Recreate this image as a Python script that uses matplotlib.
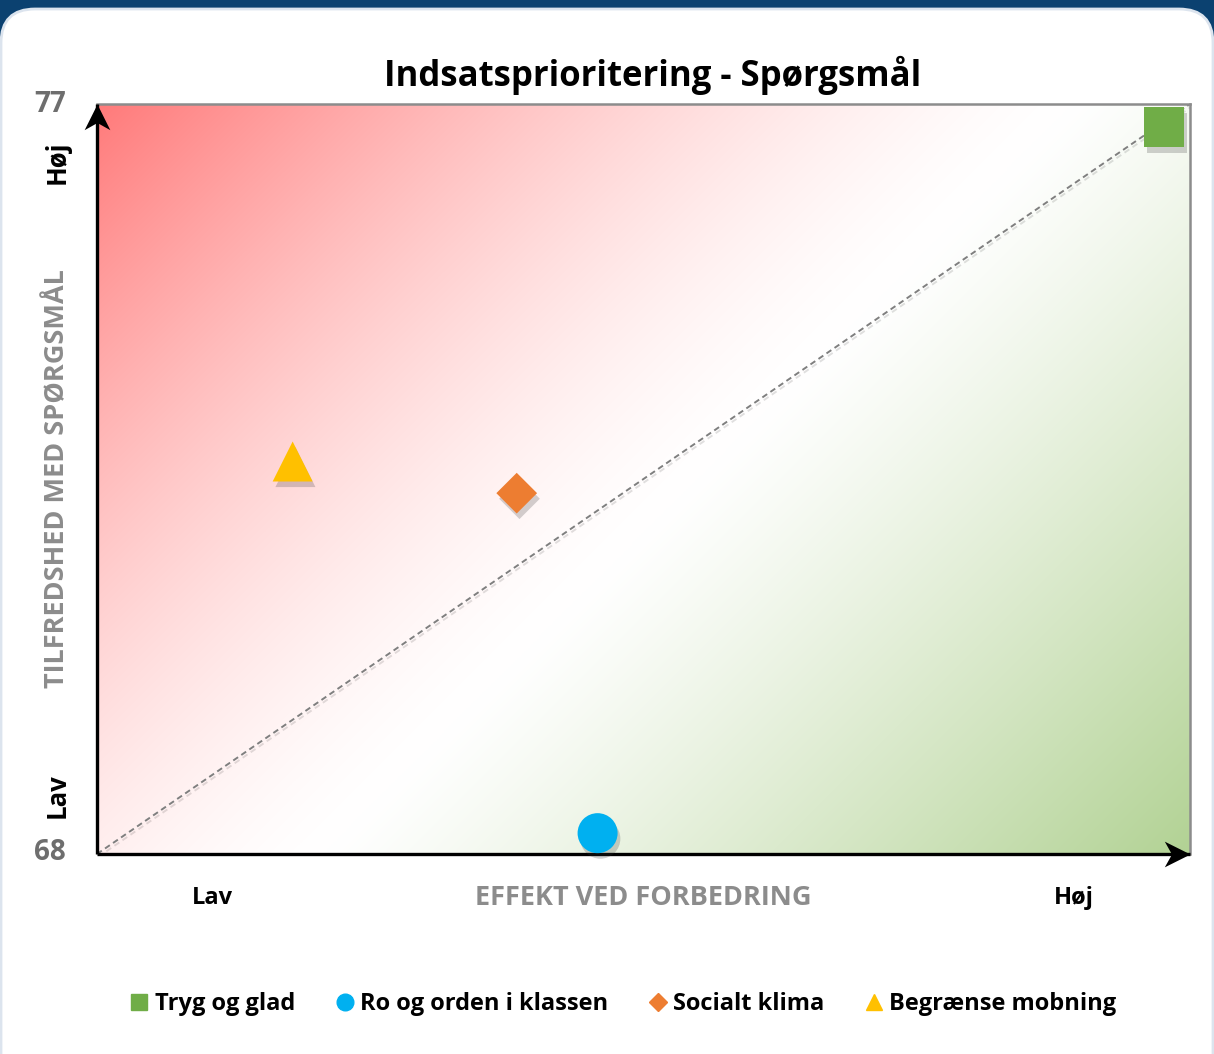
import numpy as np
import matplotlib
matplotlib.use("Agg")
import matplotlib.pyplot as plt
from matplotlib.patches import FancyBboxPatch, Rectangle
from matplotlib.transforms import IdentityTransform
from matplotlib.path import Path
import matplotlib.patheffects as pe
from matplotlib.lines import Line2D

plt.rcParams['font.family'] = ['Open Sans', 'DejaVu Sans']

# ---- data ----
categories = ["Tryg og glad", "Ro og orden i klassen", "Socialt klima", "Begrænse mobning"]
effekt = [0.976, 0.458, 0.384, 0.179]          # x: effekt ved forbedring (relative)
tilfredshed = [76.72, 68.25, 72.33, 72.71]     # y: tilfredshed med spørgsmål
markers = ["s", "o", "D", "^"]
colors = ["#70AD47", "#00B0F0", "#ED7D31", "#FFC000"]
y_ticks = [68, 77]
x_range = [0.0, 1.0]

W, H = 1214, 1054
fig = plt.figure(figsize=(W / 100, H / 100), dpi=100)
fig.patch.set_facecolor("white")

# frame background: blue top band + rounded white panel
fig.patches.append(Rectangle((0, H - 60), W, 60, transform=IdentityTransform(),
                             facecolor="#0B4170", edgecolor="none", zorder=-10))
fig.patches.append(FancyBboxPatch((1, -100), W - 2, H - 9 + 100,
                                  boxstyle="round,pad=0,rounding_size=34",
                                  transform=IdentityTransform(),
                                  facecolor="white", edgecolor="#DCE4EE",
                                  linewidth=2, zorder=-9))

L, R, T, B = 97, 1190, 104, 854
pw, ph = R - L, B - T
ax = fig.add_axes([L / W, 1 - B / H, pw / W, ph / H])
ax.set_xlim(x_range)
ax.set_ylim(y_ticks[0], y_ticks[1])

# background gradient: 45deg linear gradient (pixel space) red -> white -> green
nx, ny = 600, 420
px = np.linspace(0, pw, nx)
py = np.linspace(ph, 0, ny)          # row 0 = bottom (origin lower)
PX, PY = np.meshgrid(px, py)
s = (PX + PY) / (pw + ph)
sw = 0.53
f = np.clip((sw - s) / sw, 0, 1) ** 1.45
g = np.clip((s - sw) / (1 - sw), 0, 1) ** 1.15
red = np.array([255, 122, 122]) / 255
green = np.array([178, 210, 148]) / 255
img = np.ones((ny, nx, 3))
for c in range(3):
    img[..., c] = 1 + (red[c] - 1) * f + (green[c] - 1) * g
ax.imshow(img, origin="lower", extent=[x_range[0], x_range[1], y_ticks[0], y_ticks[1]],
          aspect="auto", zorder=0, interpolation="bilinear")

# diagonal dashed line
ax.plot(x_range, y_ticks, linestyle=(0, (3, 2)), color="#7F7F7F", lw=1.4, zorder=2,
        path_effects=[pe.SimpleLineShadow(offset=(1, -2), alpha=0.12), pe.Normal()])

# spines
for sp in ["left", "bottom"]:
    ax.spines[sp].set_visible(False)
for sp in ["top", "right"]:
    ax.spines[sp].set_color("#8C8C8C")
    ax.spines[sp].set_linewidth(1.8)
ax.set_xticks([])
ax.set_yticks([])

# axis lines with stealth arrow heads
ax.plot([x_range[0], x_range[0]], y_ticks, color="black", lw=2.4, zorder=5, clip_on=False,
        solid_capstyle="butt")
ax.plot(x_range, [y_ticks[0], y_ticks[0]], color="black", lw=2.4, zorder=5, clip_on=False,
        solid_capstyle="butt")
up = Path([(0, 0), (-0.5, -1), (0, -0.72), (0.5, -1), (0, 0)],
          [Path.MOVETO, Path.LINETO, Path.LINETO, Path.LINETO, Path.CLOSEPOLY])
right = Path([(0, 0), (-1, 0.5), (-0.72, 0), (-1, -0.5), (0, 0)],
             [Path.MOVETO, Path.LINETO, Path.LINETO, Path.LINETO, Path.CLOSEPOLY])
ax.plot([x_range[0]], [y_ticks[1]], marker=up, markersize=37, color="black",
        markeredgewidth=0, zorder=6, clip_on=False, linestyle="none")
ax.plot([x_range[1]], [y_ticks[0]], marker=right, markersize=37, color="black",
        markeredgewidth=0, zorder=6, clip_on=False, linestyle="none")

# points
sizes = [830, 830, 430, 830]
for x, y, m, c, sz in zip(effekt, tilfredshed, markers, colors, sizes):
    ax.scatter([x], [y], marker=m, s=sz, color=c, edgecolors="none", zorder=7, clip_on=False,
               path_effects=[pe.SimplePatchShadow(offset=(2, -4), alpha=0.22, shadow_rgbFace="#333333"),
                             pe.Normal()])

def ftext(px_, py_, txt, **kw):
    fig.text(px_ / W, 1 - py_ / H, txt, ha="center", va="center", fontweight="bold", **kw)

ftext(653, 75, "Indsatsprioritering - Spørgsmål", fontsize=25, color="black")
ftext(50, 104, str(y_ticks[1]), fontsize=20, color="#6E6E6E")
ftext(50, 852, str(y_ticks[0]), fontsize=20, color="#6E6E6E")
ftext(57, 162, "Høj", fontsize=18.5, color="black", rotation=90)
ftext(57, 796, "Lav", fontsize=18.5, color="black", rotation=90)
ftext(57, 479, "TILFREDSHED MED SPØRGSMÅL", fontsize=19.5, color="#8C8C8C", rotation=90)
ftext(212, 898, "Lav", fontsize=17, color="black")
ftext(643, 898, "EFFEKT VED FORBEDRING", fontsize=19.5, color="#8C8C8C")
ftext(1074, 898, "Høj", fontsize=17, color="black")

# legend
handles = [Line2D([], [], marker=m, color=c, linestyle="none",
                  markersize=(12 if m != "D" else 9)) for m, c in zip(markers, colors)]
leg = fig.legend(handles, categories, loc="center", bbox_to_anchor=(622 / W, 1 - 1004 / H),
                 ncol=4, frameon=False, handletextpad=0.15, columnspacing=1.6,
                 handlelength=1.0, prop={"size": 17, "weight": "bold"})

fig.savefig("out.png", dpi=100, facecolor=fig.get_facecolor())
